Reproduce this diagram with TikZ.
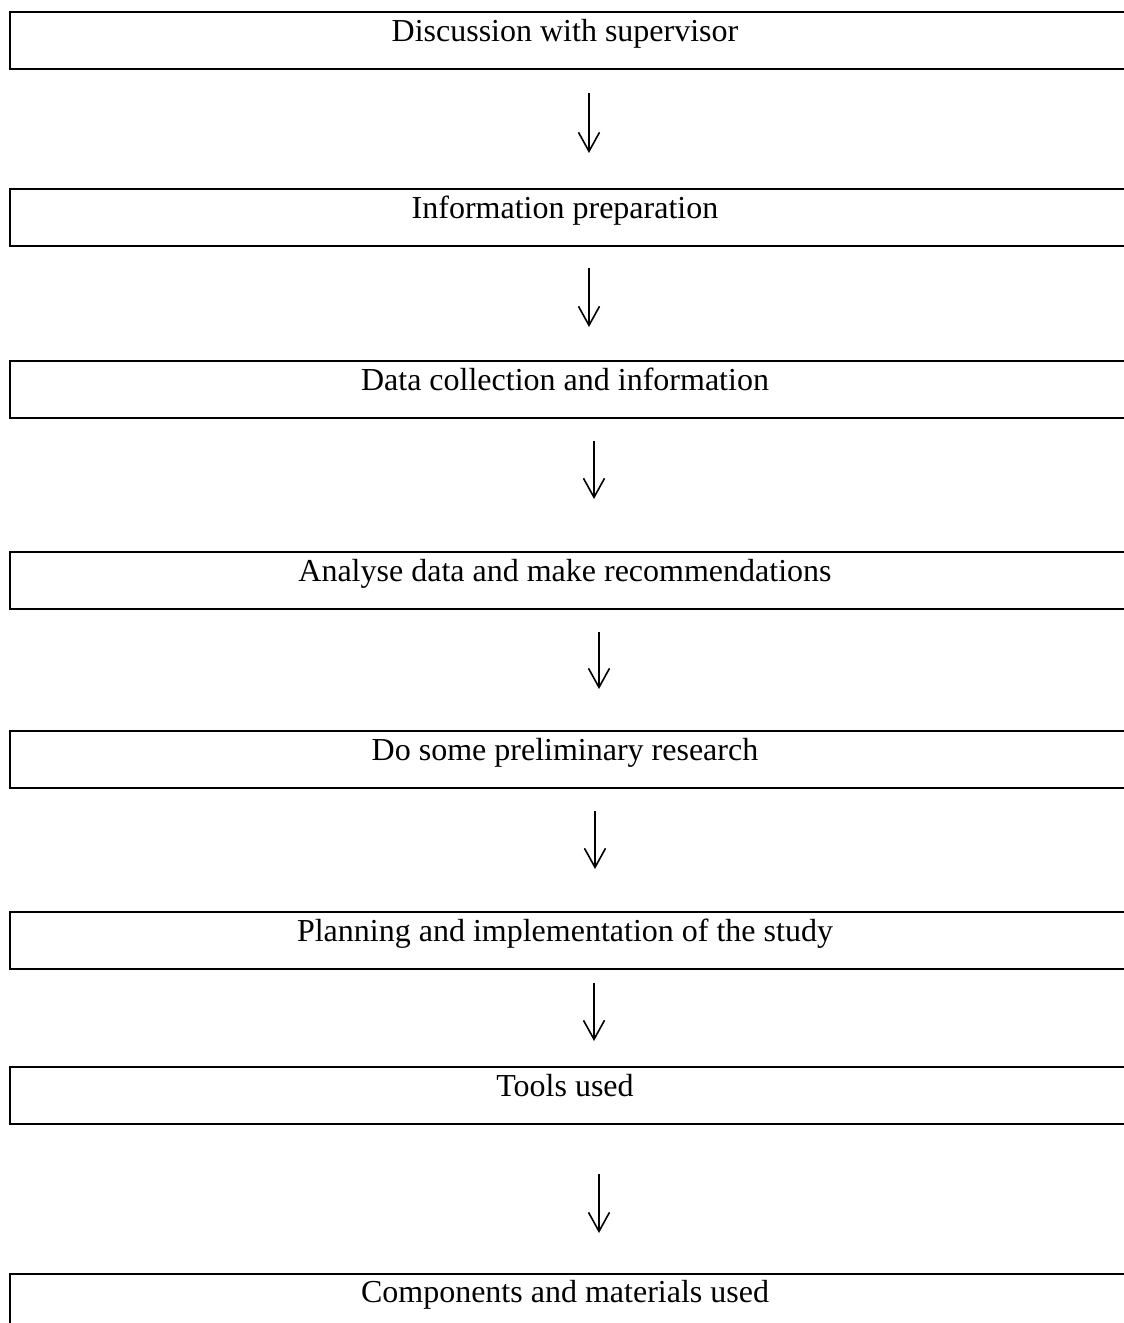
\documentclass[tikz,border=0pt]{standalone}
\usepackage{fontspec}
\setmainfont{Liberation Serif}
\usetikzlibrary{arrows.meta}
\tikzset{
  x=1pt, y=-1pt,
  box/.style={draw=black, line width=2.2pt, rectangle, anchor=north west,
    minimum width=1125pt, minimum height=56.5pt, inner sep=0pt},
  lbl/.style={anchor=base, inner sep=0pt, font=\fontsize{32}{38}\selectfont},
  arr/.style={line width=1.6pt, -{Straight Barb[length=19pt,width=21pt]}}
}
\begin{document}
\begin{tikzpicture}
\useasboundingbox (0,0) rectangle (1124,1323);
\clip (0,0) rectangle (1124,1323);
% boxes
\node[box] (b1) at (9,11) {};
\node[box] (b2) at (9,188) {};
\node[box] (b3) at (9,360) {};
\node[box] (b4) at (9,551) {};
\node[box] (b5) at (9,730) {};
\node[box] (b6) at (9,911) {};
\node[box] (b7) at (9,1066) {};
\node[box] (b8) at (9,1273) {};
% labels
\node[lbl] (t1) at (565,41) {Discussion with supervisor};
\node[lbl] (t2) at (565,218) {Information preparation};
\node[lbl] (t3) at (565,390) {Data collection and information};
\node[lbl] (t4) at (565,581) {Analyse data and make recommendations};
\node[lbl] (t5) at (565,760) {Do some preliminary research};
\node[lbl] (t6) at (565,941) {Planning and implementation of the study};
\node[lbl] (t7) at (565,1096) {Tools used};
\node[lbl] (t8) at (565,1302) {Components and materials used};
% arrow end points
\coordinate (a1s) at (589,93);   \coordinate (a1e) at (589,153);
\coordinate (a2s) at (589,268);  \coordinate (a2e) at (589,327);
\coordinate (a3s) at (594,441);  \coordinate (a3e) at (594,499);
\coordinate (a4s) at (599,632);  \coordinate (a4e) at (599,689);
\coordinate (a5s) at (595,811);  \coordinate (a5e) at (595,869);
\coordinate (a6s) at (594,983);  \coordinate (a6e) at (594,1041);
\coordinate (a7s) at (599,1174); \coordinate (a7e) at (599,1233);
\draw[arr] (a1s) -- (a1e);
\draw[arr] (a2s) -- (a2e);
\draw[arr] (a3s) -- (a3e);
\draw[arr] (a4s) -- (a4e);
\draw[arr] (a5s) -- (a5e);
\draw[arr] (a6s) -- (a6e);
\draw[arr] (a7s) -- (a7e);
\end{tikzpicture}
\end{document}
